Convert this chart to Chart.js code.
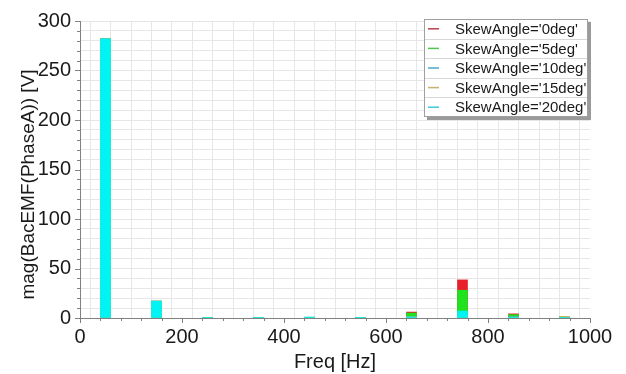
<!DOCTYPE html>
<html>
<head>
<meta charset="utf-8">
<script src="https://cdn.jsdelivr.net/npm/chart.js@4/dist/chart.umd.min.js"></script>
<style>
  html, body { margin: 0; padding: 0; background: #fff; }
  #wrap { width: 626px; height: 374px; }
</style>
</head>
<body>
<div id="wrap"><canvas id="c" width="626" height="374"></canvas></div>
<script>
// Harmonic frequencies of the back-EMF spectrum [Hz]
const freqs = [50, 150, 250, 350, 450, 550, 650, 750, 850, 950];

// Series names
const seriesLabels = ["SkewAngle='0deg'", "SkewAngle='5deg'", "SkewAngle='10deg'", "SkewAngle='15deg'", "SkewAngle='20deg'"];

// Magnitude per harmonic [V], one list per skew angle
const skew0  = [282, 17, 0.3, 0.2, 0.6, 0.2, 6.0, 38.5, 4.2, 1.0];
const skew5  = [282, 17, 0.3, 0.2, 0.6, 0.2, 5.0, 28.0, 3.4, 0.9];
const skew10 = [282, 17, 0.4, 0.2, 0.7, 0.2, 1.5, 5.0, 1.5, 1.0];
const skew15 = [282, 17, 0.5, 0.3, 0.8, 0.3, 1.2, 3.0, 1.0, 1.5];
const skew20 = [282, 17, 0.6, 0.3, 1.0, 0.3, 1.0, 7.0, 0.8, 0.6];

// Axis tick labels and titles
const xTickLabels = [0, 200, 400, 600, 800, 1000];
const yTickLabels = [0, 50, 100, 150, 200, 250, 300];
const xTitle = 'Freq [Hz]';
const yTitle = 'mag(BacEMF(PhaseA)) [V]';

const barColors = ['#e8202a', '#1ee31e', '#2aa9b8', '#cdb84c', '#00f4f4'];
const keyColors = ['#b8404e', '#4cc84c', '#4aa8c8', '#c8b070', '#40c8e0'];

const seriesValues = [skew0, skew5, skew10, skew15, skew20];

const datasets = seriesValues.map((vals, i) => ({
  label: seriesLabels[i],
  data: freqs.map((f, j) => ({ x: f, y: vals[j] })),
  backgroundColor: barColors[i],
  borderWidth: 0,
  barThickness: 10,
  grouped: false,
  // later skew angles are painted over earlier ones
  order: seriesValues.length - 1 - i
}));

const FONT = "'Liberation Sans', Arial, sans-serif";
const AXIS = '#808080';

// Major / minor tick marks on both axes
const tickMarks = {
  id: 'tickMarks',
  afterDatasetsDraw(chart) {
    const ctx = chart.ctx;
    const xs = chart.scales.x, ys = chart.scales.y;
    const area = chart.chartArea;
    ctx.save();
    ctx.strokeStyle = AXIS;
    ctx.lineWidth = 1;
    ctx.beginPath();
    xs.ticks.forEach(t => {
      const px = Math.round(xs.getPixelForValue(t.value)) + 0.5;
      const len = xTickLabels.includes(t.value) ? 5 : 3;
      ctx.moveTo(px, area.bottom);
      ctx.lineTo(px, area.bottom + len);
    });
    ys.ticks.forEach(t => {
      const py = Math.round(ys.getPixelForValue(t.value)) + 0.5;
      const len = yTickLabels.includes(t.value) ? 5 : 3;
      ctx.moveTo(area.left, py);
      ctx.lineTo(area.left - len, py);
    });
    ctx.stroke();
    ctx.restore();
  }
};

// Vertical axis title, set a little below the plot's middle
const yAxisTitle = {
  id: 'yAxisTitle',
  afterDraw(chart) {
    const ctx = chart.ctx;
    const area = chart.chartArea;
    ctx.save();
    ctx.translate(29, (area.top + area.bottom) / 2 + 15);
    ctx.rotate(-Math.PI / 2);
    ctx.font = '19px ' + FONT;
    ctx.fillStyle = '#1a1a1a';
    ctx.textAlign = 'center';
    ctx.textBaseline = 'middle';
    ctx.fillText(yTitle, 0, 0);
    ctx.restore();
  }
};

// Boxed key with row separators and a drop shadow
const boxedKey = {
  id: 'boxedKey',
  afterDraw(chart) {
    const ctx = chart.ctx;
    const left = 424, top = 19, w = 164, rowH = 19.6;
    const h = rowH * seriesLabels.length;
    ctx.save();
    ctx.fillStyle = '#9a9a9a';
    ctx.fillRect(left + 3, top + 3, w, h);
    ctx.fillStyle = '#ffffff';
    ctx.fillRect(left, top, w, h);
    ctx.strokeStyle = '#a0a0a0';
    ctx.lineWidth = 1;
    ctx.strokeRect(left + 0.5, top + 0.5, w - 1, h - 1);
    ctx.font = '15px ' + FONT;
    ctx.textBaseline = 'middle';
    ctx.textAlign = 'left';
    chart.data.datasets.forEach((ds, i) => {
      const y0 = top + i * rowH;
      const cy = y0 + rowH / 2;
      if (i > 0) {
        ctx.strokeStyle = '#d8d8d8';
        ctx.beginPath();
        ctx.moveTo(left + 1, Math.round(y0) + 0.5);
        ctx.lineTo(left + w - 1, Math.round(y0) + 0.5);
        ctx.stroke();
      }
      ctx.strokeStyle = keyColors[i];
      ctx.lineWidth = 1.5;
      ctx.beginPath();
      ctx.moveTo(left + 4, cy);
      ctx.lineTo(left + 15, cy);
      ctx.stroke();
      ctx.lineWidth = 1;
      ctx.fillStyle = '#1a1a1a';
      ctx.fillText(ds.label, left + 31, cy + 1);
    });
    ctx.restore();
  }
};

new Chart(document.getElementById('c'), {
  type: 'bar',
  data: { datasets },
  options: {
    responsive: false,
    animation: false,
    devicePixelRatio: 1,
    layout: { padding: { left: 0, right: 36, top: 16, bottom: 0 } },
    plugins: {
      legend: { display: false },
      tooltip: { enabled: false }
    },
    scales: {
      x: {
        type: 'linear',
        min: 0, max: 1000,
        offset: false,
        afterFit(scale) { scale.height = 56; },
        grid: { color: '#e6e6e6', drawTicks: false },
        border: { color: AXIS },
        ticks: {
          stepSize: 40,
          autoSkip: false,
          maxRotation: 0,
          padding: 7,
          color: '#1a1a1a',
          font: { family: FONT, size: 20 },
          callback: v => xTickLabels.includes(v) ? String(v) : ''
        },
        title: {
          display: true,
          text: xTitle,
          color: '#1a1a1a',
          font: { family: FONT, size: 20 },
          padding: { top: 0, bottom: 0 }
        }
      },
      y: {
        min: 0, max: 300,
        afterFit(scale) { scale.width = 80; },
        grid: { color: '#e6e6e6', drawTicks: false },
        border: { color: AXIS },
        ticks: {
          stepSize: 10,
          autoSkip: false,
          padding: 9,
          color: '#1a1a1a',
          font: { family: FONT, size: 20 },
          callback: v => yTickLabels.includes(v) ? String(v) : ''
        }
      }
    }
  },
  plugins: [tickMarks, yAxisTitle, boxedKey]
});
</script>
</body>
</html>
